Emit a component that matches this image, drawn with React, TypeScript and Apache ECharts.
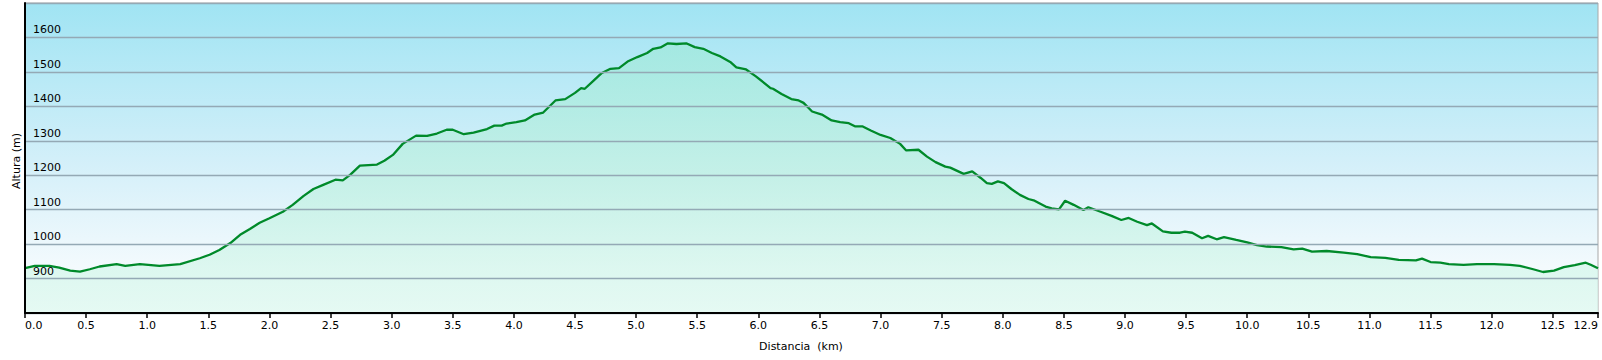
import React, { useEffect, useRef } from "react";
import * as echarts from "echarts";

const distanceKm = [
  0.0, 0.08, 0.2, 0.28, 0.37, 0.45, 0.53, 0.61, 0.75, 0.82, 0.94, 1.1, 1.27, 1.43, 1.51, 1.59, 1.68, 1.76, 1.84, 1.92,
  2.0, 2.11, 2.19, 2.28, 2.36, 2.44, 2.54, 2.6, 2.66, 2.74, 2.88, 2.94, 3.01, 3.09, 3.2, 3.29, 3.37, 3.45, 3.5, 3.59,
  3.67, 3.78, 3.84, 3.9, 3.94, 4.02, 4.09, 4.17, 4.24, 4.34, 4.42, 4.5, 4.55, 4.58, 4.65, 4.72, 4.79, 4.86, 4.93, 5.01,
  5.09, 5.14, 5.2, 5.26, 5.33, 5.41, 5.48, 5.55, 5.62, 5.69, 5.77, 5.82, 5.9, 5.98, 6.1, 6.12, 6.19, 6.27, 6.33, 6.37,
  6.44, 6.52, 6.6, 6.67, 6.74, 6.79, 6.85, 6.92, 7.0, 7.08, 7.16, 7.21, 7.31, 7.38, 7.45, 7.53, 7.57, 7.68, 7.75, 7.82,
  7.87, 7.91, 7.96, 8.01, 8.07, 8.14, 8.21, 8.26, 8.35, 8.4, 8.46, 8.51, 8.58, 8.66, 8.7, 8.8, 8.89, 8.97, 9.03, 9.1,
  9.18, 9.22, 9.31, 9.38, 9.45, 9.49, 9.55, 9.63, 9.68, 9.75, 9.81, 9.91, 10.0, 10.08, 10.16, 10.28, 10.38, 10.45, 10.53, 10.65,
  10.79, 10.9, 11.01, 11.13, 11.24, 11.38, 11.43, 11.5, 11.58, 11.65, 11.77, 11.88, 12.02, 12.15, 12.23, 12.34, 12.42, 12.51, 12.59, 12.68,
  12.77, 12.81, 12.87,
];

const elevationM = [
  930, 937, 937, 932, 923, 920, 927, 935, 942, 937, 942, 937, 942, 959, 969, 983, 1003, 1027, 1044, 1062,
  1075, 1094, 1114, 1140, 1160, 1172, 1187, 1185, 1201, 1228, 1231, 1242, 1259, 1291, 1315, 1314, 1321, 1332, 1332, 1319,
  1324, 1334, 1344, 1344, 1350, 1354, 1359, 1376, 1382, 1417, 1421, 1439, 1453, 1451, 1474, 1497, 1509, 1511, 1530, 1543,
  1555, 1567, 1571, 1583, 1581, 1583, 1572, 1567, 1555, 1545, 1529, 1513, 1507, 1487, 1453, 1451, 1436, 1421, 1417, 1410,
  1385, 1376, 1359, 1354, 1351, 1342, 1342, 1330, 1317, 1308, 1291, 1272, 1274, 1254, 1238, 1225, 1222, 1204, 1211, 1192,
  1177, 1175, 1182, 1177, 1160, 1143, 1131, 1126, 1109, 1104, 1101, 1126, 1114, 1099, 1107, 1094, 1082, 1070, 1076, 1065,
  1055, 1060, 1037, 1033, 1033, 1036, 1033, 1017, 1024, 1014, 1020, 1012, 1005, 997, 993, 991, 985, 987, 978, 980,
  975, 971, 962, 960, 954, 953, 958, 948, 946, 942, 940, 942, 942, 940, 937, 927, 919, 923, 933, 939,
  946, 940, 930,
];

const xTitle = "Distancia  (km)";
const yTitle = "Altura (m)";
const yMin = 800;
const yMax = 1700;
const yStep = 100;
const xMin = 0;
const xMax = 12.87;
const xStep = 0.5;

const FONT = "DejaVu Sans";

export default function App() {
  const ref = useRef<HTMLDivElement>(null);

  useEffect(() => {
    document.body.style.margin = "0";
    if (!ref.current) return;
    const chart = echarts.init(ref.current, undefined, { renderer: "svg" });
    const points = distanceKm.map((d, i) => [d, elevationM[i]]);

    chart.setOption({
      animation: false,
      grid: {
        left: 25,
        right: 4,
        top: 3,
        bottom: 47,
        show: true,
        borderColor: "#a8a8a8",
        borderWidth: 1,
        backgroundColor: new echarts.graphic.LinearGradient(0, 0, 0, 1, [
          { offset: 0, color: "#a0e4f3" },
          { offset: 0.5, color: "#d2eff9" },
          { offset: 0.85, color: "#f3fafd" },
          { offset: 1, color: "#f6fbfd" },
        ]),
      },
      xAxis: {
        type: "value",
        min: xMin,
        max: xMax,
        interval: xStep,
        z: 5,
        axisLine: { show: true, lineStyle: { color: "#000", width: 2 } },
        axisTick: { show: true, length: 5, lineStyle: { color: "#000", width: 1.5 } },
        axisLabel: {
          color: "#000",
          fontFamily: FONT,
          fontSize: 11,
          margin: 7,
          alignMinLabel: "left",
          alignMaxLabel: "right",
          formatter: (v: number) => v.toFixed(1),
        },
        splitLine: { show: false },
      },
      yAxis: {
        type: "value",
        min: yMin,
        max: yMax,
        interval: yStep,
        z: 3,
        axisLine: { show: true, lineStyle: { color: "#000", width: 2 } },
        axisTick: { show: false },
        axisLabel: {
          inside: true,
          margin: 8,
          color: "#000",
          fontFamily: FONT,
          fontSize: 11,
          verticalAlign: "bottom",
          padding: [0, 0, 2, 0],
          formatter: (v: number) => (v === yMin || v === yMax ? "" : String(v)),
        },
        splitLine: { show: true, lineStyle: { color: "#94a9b5", width: 1.3 } },
      },
      series: [
        {
          type: "line",
          data: points,
          symbol: "none",
          smooth: false,
          lineStyle: { color: "#008a2a", width: 2.3 },
          areaStyle: {
            color: new echarts.graphic.LinearGradient(0, 0, 0, 1, [
              { offset: 0, color: "#9fe9da" },
              { offset: 0.5, color: "#bdf0e0" },
              { offset: 1, color: "#def9ef" },
            ]),
          },
          z: 2,
        },
      ],
      graphic: [
        {
          type: "text",
          left: "center",
          top: 341,
          style: { text: xTitle, font: `11px '${FONT}'`, fill: "#000" },
        },
        {
          type: "text",
          x: 16,
          y: 161,
          rotation: Math.PI / 2,
          style: {
            text: yTitle,
            font: `11px '${FONT}'`,
            fill: "#000",
            align: "center",
            verticalAlign: "middle",
          },
        },
      ],
    });

    return () => chart.dispose();
  }, []);

  return <div ref={ref} style={{ width: 1602, height: 360 }} />;
}
